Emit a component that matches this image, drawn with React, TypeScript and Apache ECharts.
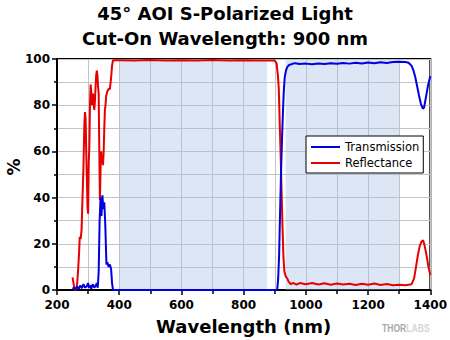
import React, { useEffect, useRef } from "react";
import * as echarts from "echarts";

const titleLines = ["45° AOI S-Polarized Light", "Cut-On Wavelength: 900 nm"];
const xAxisTitle = "Wavelength (nm)";
const yAxisTitle = "%";
const seriesNames = ["Transmission", "Reflectance"];
const xRange = [200, 1400];
const xStep = 200;
const yRange = [0, 100];
const yStep = 20;
const shadedBands = [
  [400, 875],
  [935, 1300],
];

const transWl = [
  250, 255, 260, 265, 270, 275, 280, 285, 290, 295, 300, 303, 307, 310, 315, 320, 325, 328, 331, 334,
  337, 340, 343, 346, 349, 352, 355, 357, 359, 362, 366, 370, 374, 377, 380, 500, 700, 905, 908, 911,
  914, 917, 920, 923, 926, 929, 932, 936, 940, 946, 955, 965, 980, 1000, 1020, 1040, 1060, 1080, 1100,
  1120, 1140, 1160, 1180, 1200, 1220, 1240, 1260, 1280, 1300, 1320, 1330, 1340, 1346, 1352, 1358, 1364,
  1370, 1376, 1380, 1384, 1388, 1392, 1396, 1400,
];
const transmission = [
  0.5, 1, 0.3, 1.5, 0.5, 2, 0.8, 2.5, 1, 1.5, 3, 1, 2, 0.5, 2.5, 1, 2, 3, 1, 8,
  30, 40, 32, 41, 35, 38, 29, 20, 11, 12, 10, 11, 9, 3, 0, 0, 0, 0, 0.3, 5,
  15, 33, 50, 64, 76, 86, 92, 95, 96.5, 97.4, 97.8, 98.2, 97.8, 98, 97.7, 98.1, 97.8, 98.2, 97.9,
  98.3, 98, 98.4, 98.1, 98.5, 98.2, 98.6, 98.3, 98.7, 98.8, 98.7, 98.4, 97, 95, 92, 88, 84,
  80.5, 78.5, 79, 82, 85, 88, 90.5, 92.5,
];

const reflWl = [
  250, 253, 256, 259, 262, 265, 268, 271, 273, 276, 279, 282, 285, 288, 290, 292, 294, 296, 298, 300,
  302, 304, 306, 308, 310, 312, 314, 316, 318, 320, 322, 324, 326, 328, 330, 332, 334, 336, 338, 340,
  342, 344, 346, 348, 350, 352, 354, 356, 358, 360, 362, 366, 370, 374, 377, 380, 400, 450, 500, 550,
  600, 650, 700, 750, 800, 850, 900, 906, 910, 913, 916, 919, 922, 925, 928, 931, 935, 940, 945, 951,
  960, 970, 980, 1000, 1020, 1040, 1060, 1080, 1100, 1120, 1140, 1160, 1180, 1200, 1220, 1240, 1260,
  1280, 1300, 1320, 1340, 1348, 1354, 1360, 1366, 1372, 1377, 1382, 1388, 1394, 1400,
];
const reflectance = [
  5.5, 3, 0.5, 0, 0.5, 3, 9, 16, 23, 22, 26, 40, 53, 72, 77, 74, 60, 48, 36, 33,
  55, 62, 80, 89, 86, 80, 84, 85, 80, 78, 82, 88, 93, 95, 93, 88, 85, 60, 39, 52,
  60, 56, 58, 54, 60, 70, 78, 80, 84, 84, 86, 87, 87, 92, 97, 99.5, 99.5, 99.3, 99.6, 99.4,
  99.5, 99.3, 99.6, 99.4, 99.5, 99.3, 99.4, 98, 93, 87, 72, 58, 42, 27, 14, 8, 6, 5, 3.5, 2.6,
  3, 2.3, 3, 2.5, 3, 2.4, 2.9, 2.3, 2.8, 2.4, 2.7, 2.2, 2.7, 2.3, 2.8, 2.2, 2.6,
  2.1, 2.3, 2.1, 2.5, 5, 10, 15, 19, 21, 21.5, 19, 15, 10, 6.5,
];

const FONT = "DejaVu Sans";

function zip(xs: number[], ys: number[]) {
  return xs.map((x, i) => [x, ys[i]]);
}

export default function App() {
  const ref = useRef<HTMLDivElement>(null);
  useEffect(() => {
    document.body.style.margin = "0";
    if (!ref.current) return;
    const chart = echarts.init(ref.current, undefined, { renderer: "svg" });
    const gridLine = { show: true, lineStyle: { color: "#c4c4c4", width: 1 } };
    chart.setOption({
      animation: false,
      backgroundColor: "#ffffff",
      title: {
        text: titleLines.join("\n"),
        left: "center",
        top: 1,
        padding: 0,
        textStyle: {
          fontFamily: FONT,
          fontWeight: "bold",
          fontSize: 18,
          lineHeight: 25,
          color: "#000",
        },
      },
      grid: {
        left: 57,
        right: 18,
        top: 59,
        bottom: 50,
        containLabel: false,
        show: true,
        borderColor: "#000",
        borderWidth: 2,
        backgroundColor: "transparent",
      },
      legend: {
        data: seriesNames,
        orient: "vertical",
        left: 306,
        top: 136,
        backgroundColor: "#fff",
        borderColor: "#000",
        borderWidth: 1,
        borderRadius: 0,
        padding: [4, 4, 3, 5],
        itemGap: 2,
        itemWidth: 29,
        itemHeight: 2,
        itemTextGap: 4,
        icon: "rect",
        textStyle: { fontFamily: FONT, fontSize: 11.5, color: "#000", lineHeight: 14 },
      },
      xAxis: {
        type: "value",
        min: xRange[0],
        max: xRange[1],
        interval: xStep,
        name: xAxisTitle,
        nameLocation: "middle",
        nameGap: 27,
        nameTextStyle: { fontFamily: FONT, fontWeight: "bold", fontSize: 18, color: "#000" },
        axisLine: { show: true, onZero: false, lineStyle: { color: "#000", width: 2 } },
        axisTick: { show: true, length: 5, lineStyle: { color: "#000", width: 1.5 } },
        minorTick: { show: true, splitNumber: 2, length: 4, lineStyle: { color: "#000", width: 1.5 } },
        axisLabel: {
          fontFamily: FONT,
          fontWeight: "bold",
          fontSize: 12,
          color: "#000",
          margin: 9,
          formatter: (v: number) => String(v),
        },
        splitLine: gridLine,
        minorSplitLine: gridLine,
      },
      yAxis: {
        type: "value",
        min: yRange[0],
        max: yRange[1],
        interval: yStep,
        axisLine: { show: true, onZero: false, lineStyle: { color: "#000", width: 2 } },
        axisTick: { show: true, length: 5, lineStyle: { color: "#000", width: 1.5 } },
        minorTick: { show: true, splitNumber: 2, length: 3, lineStyle: { color: "#000", width: 1.5 } },
        axisLabel: {
          fontFamily: FONT,
          fontWeight: "bold",
          fontSize: 12,
          color: "#000",
          margin: 7,
          formatter: (v: number) => String(v),
        },
        splitLine: gridLine,
        minorSplitLine: gridLine,
      },
      graphic: [
        {
          type: "text",
          x: 14,
          y: 167,
          rotation: Math.PI / 2,
          style: {
            text: yAxisTitle,
            fontFamily: FONT,
            fontWeight: "bold",
            fontSize: 17,
            fill: "#000",
            align: "center",
            verticalAlign: "middle",
          },
        },
        {
          type: "text",
          x: 382,
          y: 323,
          scaleX: 0.78,
          style: {
            text: "{a|THOR}{b|LABS}",
            rich: {
              a: { fontFamily: "Liberation Sans", fontWeight: "bold", fontSize: 11, fill: "#a8a8a8" },
              b: { fontFamily: "Liberation Sans", fontWeight: "bold", fontSize: 11, fill: "#d6d6d6" },
            },
          },
        },
      ],
      series: [
        {
          name: "bands",
          type: "line",
          data: [],
          silent: true,
          markArea: {
            silent: true,
            itemStyle: { color: "rgba(160,188,228,0.37)" },
            label: { show: false },
            data: shadedBands.map(([a, b]) => [{ xAxis: a }, { xAxis: b }]),
          },
        },
        {
          name: seriesNames[1],
          type: "line",
          data: zip(reflWl, reflectance),
          showSymbol: false,
          color: "#e60000",
          lineStyle: { color: "#e60000", width: 2 },
        },
        {
          name: seriesNames[0],
          type: "line",
          data: zip(transWl, transmission),
          showSymbol: false,
          color: "#0000e0",
          lineStyle: { color: "#0000e0", width: 2 },
        },
      ],
    });
    return () => chart.dispose();
  }, []);
  return <div ref={ref} style={{ width: 450, height: 340 }} />;
}
